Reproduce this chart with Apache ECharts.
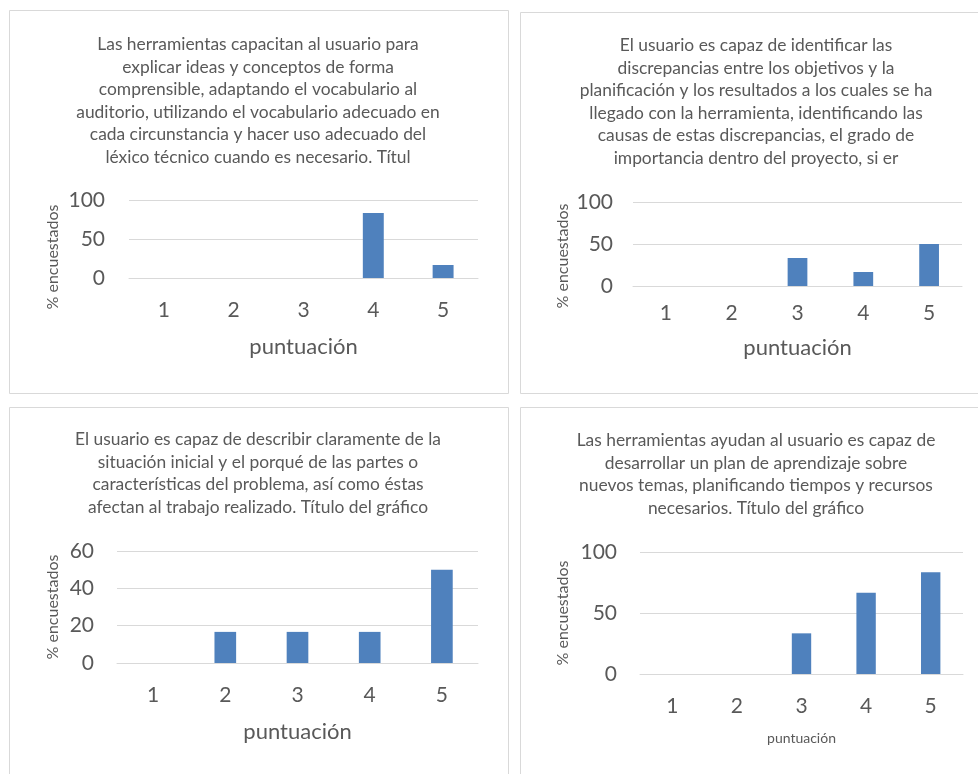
<!DOCTYPE html>
<html>
<head>
<meta charset="utf-8">
<script src="https://cdn.jsdelivr.net/npm/echarts@6/dist/echarts.min.js"></script>
<style>
  html, body { margin: 0; padding: 0; background: #fff; }
  #chart { width: 978px; height: 774px; }
</style>
</head>
<body>
<div id="chart"></div>
<script>
// Scores 1..5 and share of respondents (%) for each survey item
const categories = ['1', '2', '3', '4', '5'];
const valuesA = [0, 0, 0, 83.33, 16.67];
const valuesB = [0, 0, 33.33, 16.67, 50];
const valuesC = [0, 16.67, 16.67, 16.67, 50];
const valuesD = [0, 0, 33.33, 66.67, 83.33];

const titleA = 'Las herramientas capacitan al usuario para\nexplicar ideas y conceptos de forma\ncomprensible, adaptando el vocabulario al\nauditorio, utilizando el vocabulario adecuado en\ncada circunstancia y hacer uso adecuado del\nléxico técnico cuando es necesario. Títul';
const titleB = 'El usuario es capaz de identificar las\ndiscrepancias entre los objetivos y la\nplanificación y los resultados a los cuales se ha\nllegado con la herramienta, identificando las\ncausas de estas discrepancias, el grado de\nimportancia dentro del proyecto, si er';
const titleC = 'El usuario es capaz de describir claramente de la\nsituación inicial y el porqué de las partes o\ncaracterísticas del problema, así como éstas\nafectan al trabajo realizado. Título del gráfico';
const titleD = 'Las herramientas ayudan al usuario es capaz de\ndesarrollar un plan de aprendizaje sobre\nnuevos temas, planificando tiempos y recursos\nnecesarios. Título del gráfico';

const yMaxes = [100, 100, 60, 100];
const yIntervals = [50, 50, 20, 50];
const xAxisName = 'puntuación';
const yAxisName = '% encuestados';

const FONT = 'Lato, "Open Sans", sans-serif';
const TEXT = '#595959';
const LINE = '#D9D9D9';
const BAR = '#4F81BD';

// panel layout: plot rectangle, title position, label sizes and offsets
const panels = [
  { title: titleA, data: valuesA, tx: 253, ty: 28, plot: [129, 200, 478, 278], xNameSize: 22, xNameGap: 58, xLabelMargin: 22, yLabelMargin: 24, yNameGap: 68, yNameShift: 36 },
  { title: titleB, data: valuesB, tx: 751, ty: 29, plot: [633, 202, 962, 286], xNameSize: 22, xNameGap: 51, xLabelMargin: 17, yLabelMargin: 20, yNameGap: 62, yNameShift: 24 },
  { title: titleC, data: valuesC, tx: 253, ty: 423, plot: [117, 551, 478, 663], xNameSize: 22, xNameGap: 58, xLabelMargin: 22, yLabelMargin: 23, yNameGap: 56, yNameShift: 0 },
  { title: titleD, data: valuesD, tx: 751, ty: 424, plot: [640, 552, 963, 674], xNameSize: 14, xNameGap: 57, xLabelMargin: 22, yLabelMargin: 23, yNameGap: 69, yNameShift: 0 }
];

const titles = [], grids = [], xAxes = [], yAxes = [], series = [];

panels.forEach((p, i) => {
  titles.push({
    text: p.title,
    left: p.tx,
    top: p.ty,
    textAlign: 'center',
    textStyle: { fontFamily: FONT, fontSize: 17.4, fontWeight: 'normal', color: TEXT, lineHeight: 22.6 }
  });
  grids.push({ left: p.plot[0], top: p.plot[1], width: p.plot[2] - p.plot[0], height: p.plot[3] - p.plot[1] });
  xAxes.push({
    type: 'category', gridIndex: i, data: categories,
    name: xAxisName, nameLocation: 'middle', nameGap: p.xNameGap,
    nameTextStyle: { fontFamily: FONT, fontSize: p.xNameSize, color: TEXT },
    axisLine: { show: true, lineStyle: { color: LINE, width: 1 } },
    axisTick: { show: false },
    axisLabel: { fontFamily: FONT, fontSize: 21, color: TEXT, margin: p.xLabelMargin }
  });
  yAxes.push({
    type: 'value', gridIndex: i, min: 0, max: yMaxes[i], interval: yIntervals[i],
    name: yAxisName, nameLocation: 'middle', nameGap: p.yNameGap, nameRotate: 90,
    nameTextStyle: { fontFamily: FONT, fontSize: 16, color: TEXT, padding: [0, p.yNameShift, 0, 0] },
    axisLine: { show: false }, axisTick: { show: false },
    axisLabel: { fontFamily: FONT, fontSize: 21, color: TEXT, margin: p.yLabelMargin },
    splitLine: { show: true, lineStyle: { color: LINE, width: 1 } }
  });
  series.push({
    type: 'bar', xAxisIndex: i, yAxisIndex: i, data: p.data,
    barWidth: '30%', itemStyle: { color: BAR }, silent: true
  });
});

// chart area frames
const frames = [[9.5, 10.5, 499, 383], [520.5, 12.5, 480, 381], [9.5, 407.5, 499, 400], [520.5, 407.5, 480, 400]];

const chart = echarts.init(document.getElementById('chart'), null, { renderer: 'canvas' });
chart.setOption({
  animation: false,
  backgroundColor: '#fff',
  title: titles,
  grid: grids,
  xAxis: xAxes,
  yAxis: yAxes,
  series: series,
  graphic: frames.map(f => ({
    type: 'rect', silent: true, z: -1,
    shape: { x: f[0], y: f[1], width: f[2], height: f[3] },
    style: { fill: 'none', stroke: LINE, lineWidth: 1 }
  }))
});
</script>
</body>
</html>
